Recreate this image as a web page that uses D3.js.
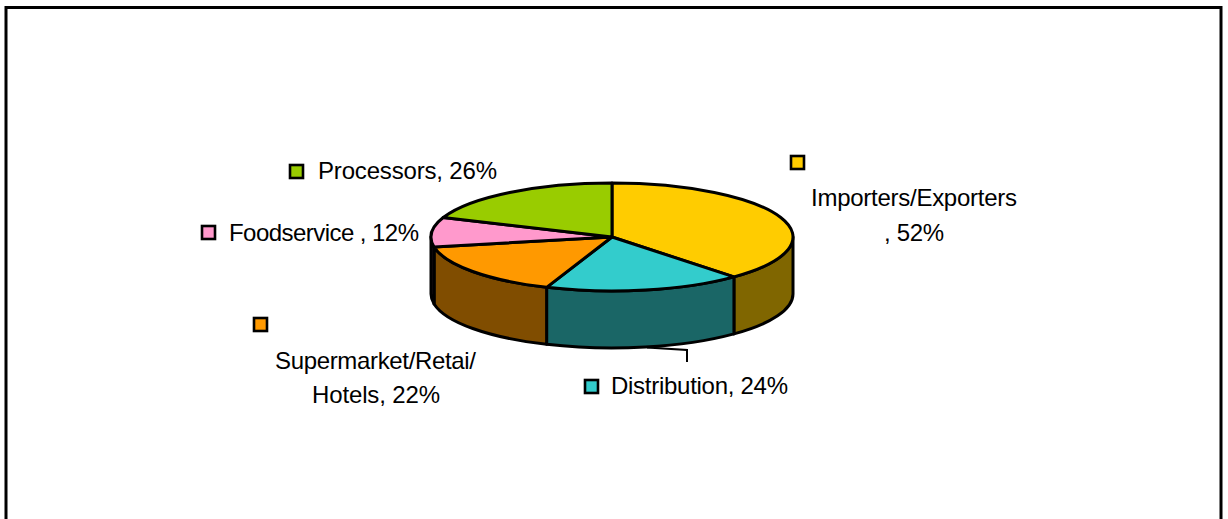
<!DOCTYPE html>
<html><head><meta charset="utf-8">
<script src="https://cdn.jsdelivr.net/npm/d3@7"></script>
<style>
html,body{margin:0;padding:0;background:#fff;overflow:hidden}
svg{display:block}
text{font-family:"Liberation Sans",Arial,sans-serif;font-size:24px;fill:#000}
</style></head><body>
<svg id="c" width="1228" height="519"></svg>
<script>
const categories = ["Importers/Exporters","Distribution","Supermarket/Retai/Hotels","Foodservice","Processors"];
const values = [52,24,22,12,26];
const topColors = ["#FFCC00","#33CCCC","#FF9900","#FF99CC","#99CC00"];
const sideColors = ["#806600","#1A6666","#804D00","#804D66","#4D6600"];
const labelLines = [["Importers/Exporters",", 52%"],["Distribution, 24%"],["Supermarket/Retai/","Hotels, 22%"],["Foodservice ,  12%"],["Processors, 26%"]];

// layout
const W=1228,H=519,cx=612,cy=237,rx=181,ry=54,depth=57,sw=3;
const keyPos=[[790,155],[584,379],[253,317],[201,225],[289,164]];
const textPos=[
  [[811,206,206],[884,241,60]],
  [[611,394,177]],
  [[275,369,201],[312,403,128]],
  [[229,241,190]],
  [[318,179,179]]];

const svg=d3.select("#c");
svg.append("rect").attr("x",6).attr("y",7.5).attr("width",1215).attr("height",540)
  .attr("fill","#fff").attr("stroke","#000").attr("stroke-width",3);

const pie=d3.pie().sort(null).value(d=>d)(values);
const px=a=>cx+rx*Math.sin(a), py=a=>cy-ry*Math.cos(a);
const arcs=pie.map((d,i)=>({i,a0:d.startAngle,a1:d.endAngle}));

// side walls (only the front half of the cylinder is visible)
const lo=Math.PI/2, hi=3*Math.PI/2;
const g=svg.append("g").attr("stroke","#000").attr("stroke-width",sw).attr("stroke-linejoin","round");
g.selectAll("path.side").data(arcs.filter(d=>d.a1>lo&&d.a0<hi)).join("path").attr("class","side")
  .attr("fill",d=>sideColors[d.i])
  .attr("d",d=>{
    const a=Math.max(d.a0,lo),b=Math.min(d.a1,hi);
    return `M${px(a)},${py(a)}A${rx},${ry} 0 0 1 ${px(b)},${py(b)}L${px(b)},${py(b)+depth}A${rx},${ry} 0 0 0 ${px(a)},${py(a)+depth}Z`;
  });

// top face
g.selectAll("path.top").data(arcs).join("path").attr("class","top")
  .attr("fill",d=>topColors[d.i])
  .attr("d",d=>{
    const large=(d.a1-d.a0)>Math.PI?1:0;
    return `M${cx},${cy}L${px(d.a0)},${py(d.a0)}A${rx},${ry} 0 ${large} 1 ${px(d.a1)},${py(d.a1)}Z`;
  });

// leader line for Distribution
svg.append("path").attr("d","M647,347.5L687,350V362").attr("fill","none").attr("stroke","#000").attr("stroke-width",2);

// legend keys
svg.selectAll("rect.key").data(categories).join("rect").attr("class","key")
  .attr("x",(d,i)=>keyPos[i][0]+1).attr("y",(d,i)=>keyPos[i][1]+1)
  .attr("width",13).attr("height",13)
  .attr("fill",(d,i)=>topColors[i]).attr("stroke","#000").attr("stroke-width",2.6);

// labels
labelLines.forEach((lines,i)=>lines.forEach((t,j)=>{
  const p=textPos[i][j];
  svg.append("text").attr("x",p[0]).attr("y",p[1]).attr("textLength",p[2]).attr("lengthAdjust","spacing").text(t);
}));
</script>
</body></html>
